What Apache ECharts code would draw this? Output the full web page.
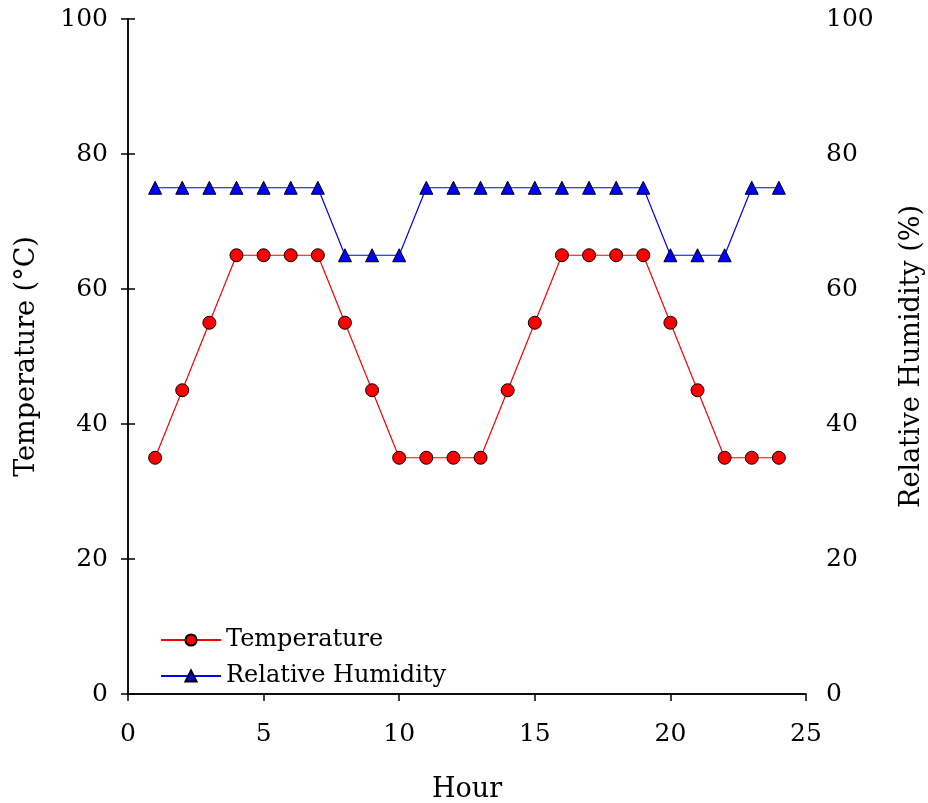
<!DOCTYPE html>
<html><head><meta charset="utf-8">
<script src="https://cdn.jsdelivr.net/npm/echarts@6/dist/echarts.min.js"></script>
<style>html,body{margin:0;padding:0;background:#fff;overflow:hidden;width:928px;height:803px}#c{width:928px;height:803px}</style>
</head><body><div id="c"></div>
<script>
const hours = [1,2,3,4,5,6,7,8,9,10,11,12,13,14,15,16,17,18,19,20,21,22,23,24];
const temperature = [35,45,55,65,65,65,65,55,45,35,35,35,35,45,55,65,65,65,65,55,45,35,35,35];
const humidity = [75,75,75,75,75,75,75,65,65,65,75,75,75,75,75,75,75,75,75,65,65,65,75,75];
const xTicks = [0,5,10,15,20,25];
const yTicks = [0,20,40,60,80,100];

const FONT = 'DejaVu Serif';
const chart = echarts.init(document.getElementById('c'), null, {width:928, height:803});
const axisLine = {show:true, lineStyle:{color:'#000', width:1.5}};
const tick = {show:true, length:7, inside:false, lineStyle:{color:'#000', width:1.5}};
const lab = {color:'#000', fontFamily:FONT, fontSize:25};
const nameStyle = {color:'#000', fontFamily:FONT, fontSize:27};
chart.setOption({
  animation:false,
  textStyle:{fontFamily:FONT},
  grid:{left:128, right:122, top:19, bottom:109, containLabel:false, outerBoundsMode:'none'},
  legend:{
    left:155, top:623, orient:'vertical', itemGap:12, itemWidth:60, itemHeight:14,
    textStyle:{color:'#000', fontFamily:FONT, fontSize:24},
    data:['Temperature','Relative Humidity']
  },
  xAxis:[{
    type:'value', min:0, max:25, interval:5, position:'bottom',
    name:'Hour', nameLocation:'middle', nameGap:82,
    nameTextStyle:nameStyle,
    axisLine, axisTick:tick, splitLine:{show:false},
    axisLabel:Object.assign({margin:28}, lab)
  },{
    type:'value', min:0, max:25, position:'top',
    axisLine, axisTick:{show:false}, axisLabel:{show:false}, splitLine:{show:false}
  }],
  yAxis:[{
    type:'value', min:0, max:100, interval:20, position:'left',
    name:'Temperature (°C)', nameLocation:'middle', nameGap:88,
    nameTextStyle:nameStyle,
    axisLine, axisTick:tick, splitLine:{show:false},
    axisLabel:Object.assign({margin:20}, lab)
  },{
    type:'value', min:0, max:100, interval:20, position:'right',
    name:'Relative Humidity (%)', nameLocation:'middle', nameGap:92, nameRotate:90,
    nameTextStyle:nameStyle,
    axisLine, axisTick:tick, splitLine:{show:false},
    axisLabel:Object.assign({margin:20}, lab)
  }],
  series:[{
    name:'Temperature', type:'line', xAxisIndex:0, yAxisIndex:0,
    data:hours.map((h,i)=>[h, temperature[i]]),
    symbol:'circle', symbolSize:13,
    lineStyle:{color:'#ff0000', width:1.2},
    itemStyle:{color:'#ff0000', borderColor:'#000', borderWidth:1}
  },{
    name:'Relative Humidity', type:'line', xAxisIndex:0, yAxisIndex:1,
    data:hours.map((h,i)=>[h, humidity[i]]),
    symbol:'triangle', symbolSize:13,
    lineStyle:{color:'#0000ff', width:1.2},
    itemStyle:{color:'#0000ff', borderColor:'#000', borderWidth:1}
  }]
});
</script></body></html>
